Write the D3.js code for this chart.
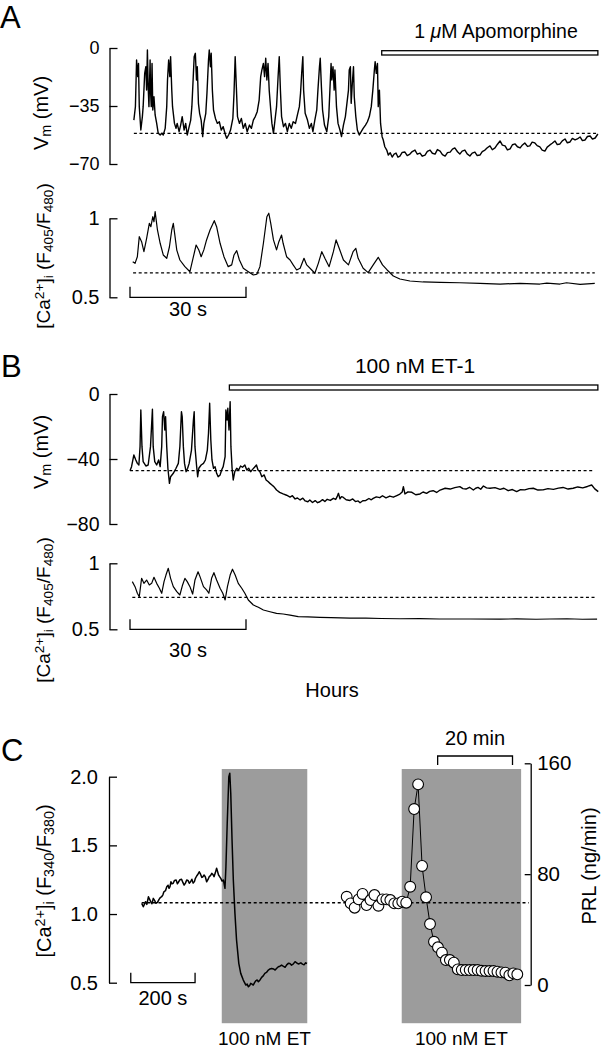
<!DOCTYPE html>
<html><head><meta charset="utf-8">
<script src="https://cdn.jsdelivr.net/npm/d3@7"></script>
<style>
body{margin:0;background:#fff}
svg text{font-family:"Liberation Sans",Arial,Helvetica,sans-serif;fill:#000}
</style></head><body>
<svg id="chart" width="601" height="1049" xmlns="http://www.w3.org/2000/svg"></svg>
<script>
// ---------------- DATA ----------------
// Panel A: membrane potential (time s, mV)
const vmA = [[1.0,-43.5],[1.4,-35.4],[1.7,-7.2],[2.0,-17.3],[2.2,-9.3],[2.4,-35.4],[2.8,-49.5],[3.2,-41.4],[3.4,-35.4],[3.8,-15.3],[4.1,-11.3],[4.3,-25.4],[4.5,-1.2],[4.7,-23.3],[4.9,-35.4],[5.2,-7.2],[5.3,-25.4],[5.5,-35.4],[5.7,-9.3],[5.9,-37.4],[6.2,-29.4],[6.5,-40.4],[6.9,-45.5],[7.3,-51.5],[7.8,-52.5],[8.2,-51.5],[8.6,-52.5],[9.1,-48.5],[9.5,-35.4],[9.7,-19.3],[10.0,-7.2],[10.3,-17.3],[10.5,-5.2],[10.8,-25.4],[11.0,-35.4],[11.5,-45.5],[11.9,-48.5],[12.2,-45.5],[12.7,-50.5],[13.1,-46.5],[13.5,-41.4],[14.0,-49.5],[14.4,-45.5],[14.8,-52.5],[15.3,-47.5],[15.7,-43.5],[16.0,-35.4],[16.4,-15.3],[16.6,-5.2],[16.9,-3.2],[17.2,-19.3],[17.4,-11.3],[17.7,-33.4],[18.0,-39.4],[18.4,-43.5],[18.8,-53.5],[19.1,-45.5],[19.6,-39.4],[19.9,-27.4],[20.3,-7.2],[20.5,-1.2],[20.8,-11.3],[21.0,-3.2],[21.3,-25.4],[21.6,-37.4],[22.1,-42.5],[22.6,-45.5],[23.1,-44.5],[23.6,-49.5],[24.1,-47.5],[24.7,-52.5],[25.0,-54.5],[25.5,-52.5],[26.0,-49.5],[26.6,-42.5],[26.9,-27.4],[27.2,-5.2],[27.5,-23.3],[27.8,-41.4],[28.3,-45.5],[28.8,-42.5],[29.3,-48.5],[29.8,-45.5],[30.3,-50.5],[30.9,-46.5],[31.4,-48.5],[31.9,-43.5],[32.4,-41.4],[32.9,-38.4],[33.4,-31.4],[33.8,-17.3],[34.1,-13.3],[34.5,-9.3],[34.8,-17.3],[35.1,-6.2],[35.4,-19.3],[35.7,-9.3],[36.0,-25.4],[36.4,-37.4],[36.7,-45.5],[37.1,-51.5],[37.5,-43.5],[37.9,-35.4],[38.3,-17.3],[38.6,-5.2],[38.9,-25.4],[39.2,-41.4],[39.7,-47.5],[40.2,-45.5],[40.7,-50.5],[41.2,-45.5],[41.7,-48.5],[42.2,-44.5],[42.8,-45.5],[43.3,-40.4],[43.8,-35.4],[44.1,-27.4],[44.4,-15.3],[44.7,-5.2],[44.9,-25.4],[45.3,-39.4],[45.9,-43.5],[46.4,-48.5],[46.9,-45.5],[47.3,-50.5],[47.8,-43.5],[48.3,-37.4],[48.6,-25.4],[49.0,-11.3],[49.2,-6.2],[49.5,-23.3],[49.8,-37.4],[50.3,-46.5],[50.9,-50.5],[51.4,-41.4],[51.7,-25.4],[52.0,-9.3],[52.2,-19.3],[52.5,-11.3],[52.8,-25.4],[53.0,-13.3],[53.4,-35.4],[53.8,-45.5],[54.3,-49.5],[54.7,-53.5],[55.2,-46.5],[55.7,-41.4],[56.1,-33.4],[56.5,-25.4],[56.7,-13.3],[57.0,-11.3],[57.2,-33.4],[57.5,-21.3],[57.8,-11.3],[58.0,-29.4],[58.4,-41.4],[58.8,-49.5],[59.3,-52.5],[59.8,-50.5],[60.3,-48.5],[60.9,-46.5],[61.4,-44.5],[61.9,-41.4],[62.4,-35.4],[62.8,-25.4],[63.2,-13.3],[63.4,-8.2],[63.7,-15.3],[64.0,-9.3],[64.2,-35.4],[64.5,-25.4],[64.8,-45.5],[65.2,-53.5],[65.5,-55.5],[65.9,-59.6],[66.4,-61.6],[66.8,-64.6],[67.3,-63.2],[67.8,-65.8],[68.3,-64.0],[68.8,-63.4],[69.3,-65.9],[69.8,-65.2],[70.4,-63.0],[71.1,-62.8],[71.7,-64.9],[72.4,-64.0],[73.0,-62.5],[73.7,-61.6],[74.3,-64.1],[75.0,-63.4],[75.6,-65.3],[76.3,-64.6],[76.9,-62.4],[77.6,-61.6],[78.2,-63.5],[78.9,-64.0],[79.5,-61.3],[80.2,-62.2],[80.8,-64.3],[81.5,-65.2],[82.1,-63.1],[82.8,-62.8],[83.4,-61.0],[84.0,-60.3],[84.7,-62.6],[85.3,-64.0],[85.9,-62.2],[86.6,-61.6],[87.2,-63.9],[87.9,-65.2],[88.5,-63.4],[89.2,-62.8],[89.8,-64.9],[90.5,-64.6],[91.1,-62.5],[91.8,-61.6],[92.4,-60.2],[93.1,-59.1],[93.7,-61.4],[94.4,-60.3],[95.0,-58.2],[95.7,-56.1],[96.3,-58.6],[97.0,-59.1],[97.6,-61.5],[98.3,-60.9],[98.9,-58.4],[99.6,-57.9],[100.2,-59.6],[100.9,-60.3],[101.5,-58.5],[102.1,-57.3],[102.8,-59.4],[103.4,-59.1],[104.0,-56.8],[104.7,-57.3],[105.3,-58.9],[106.0,-59.7],[106.6,-61.6],[107.3,-62.2],[107.9,-59.8],[108.6,-58.5],[109.2,-57.5],[109.9,-56.1],[110.5,-58.3],[111.2,-57.9],[111.8,-56.0],[112.5,-54.9],[113.1,-57.2],[113.8,-56.7],[114.4,-54.6],[115.1,-55.5],[115.7,-54.9],[116.4,-53.7],[117.0,-55.9],[117.7,-55.5],[118.3,-53.4],[119.0,-53.1],[119.6,-55.0],[120.3,-54.3],[121.0,-51.9]];
// Panel A: Ca ratio F405/F480 (time s, ratio)
const caA = [[0.7,0.725],[1.3,0.715],[1.9,0.757],[2.4,0.884],[3.0,0.852],[3.6,0.789],[4.3,0.873],[5.0,0.968],[5.4,0.947],[5.9,1.01],[6.2,0.978],[6.5,1.042],[7.1,0.926],[7.8,0.842],[8.6,0.768],[9.5,0.747],[10.2,0.82],[10.8,0.926],[11.2,0.968],[11.6,0.894],[12.1,0.799],[12.9,0.736],[14.2,0.694],[15.5,0.662],[16.4,0.757],[17.1,0.831],[17.8,0.799],[18.4,0.757],[19.1,0.8],[19.8,0.863],[20.7,0.926],[21.8,0.985],[22.4,0.947],[23.3,0.842],[24.3,0.757],[25.4,0.694],[26.3,0.705],[26.9,0.768],[27.6,0.795],[28.3,0.736],[29.3,0.684],[30.6,0.662],[31.9,0.641],[32.8,0.646],[33.6,0.694],[34.5,0.842],[35.4,1.01],[35.9,1.032],[36.4,0.968],[37.1,0.863],[37.9,0.8],[38.5,0.852],[39.2,0.894],[39.6,0.842],[40.5,0.757],[41.4,0.736],[42.2,0.705],[43.1,0.673],[44.0,0.684],[45.0,0.747],[45.7,0.705],[47.0,0.673],[47.8,0.652],[48.7,0.715],[49.6,0.789],[50.4,0.747],[51.5,0.694],[52.6,0.789],[53.3,0.863],[54.1,0.81],[55.2,0.736],[56.5,0.705],[57.7,0.789],[58.4,0.81],[59.0,0.747],[60.3,0.684],[61.6,0.656],[62.9,0.705],[64.2,0.753],[65.3,0.705],[66.5,0.673],[68.1,0.635],[69.8,0.616],[72.4,0.603],[75.8,0.597],[80.2,0.595],[85.3,0.592],[90.5,0.588],[95.7,0.584],[100.9,0.588],[106.0,0.584],[107.8,0.59],[111.2,0.584],[112.9,0.592],[116.4,0.582],[120.2,0.588]];
// Panel B: membrane potential (time s, mV)
const vmB = [[0,-47.2],[0.4,-44.7],[1.0,-37.5],[1.5,-40.6],[1.9,-42.7],[2.3,-43.7],[2.6,-32.4],[2.8,-9.8],[3.1,-32.4],[3.4,-41.6],[4.1,-44.3],[4.7,-43.7],[5.3,-32.4],[5.8,-9.4],[6.0,-32.4],[6.4,-41.6],[6.9,-43.7],[7.4,-40.6],[7.8,-44.7],[8.2,-32.4],[8.4,-13.9],[8.7,-10.9],[9.0,-22.2],[9.2,-13.9],[9.5,-32.4],[9.8,-45.7],[10.2,-55],[10.5,-50.9],[11.2,-48.8],[11.9,-45.7],[12.5,-42.7],[12.9,-32.4],[13.3,-10.9],[13.5,-13.9],[13.8,-32.4],[14.1,-42.7],[14.5,-47.8],[14.9,-45.7],[15.3,-42.7],[15.9,-34.5],[16.4,-16],[16.6,-10.9],[16.8,-32.4],[17.2,-43.7],[17.5,-50.9],[17.8,-45.7],[18.4,-43.7],[19.0,-42.7],[19.5,-40.6],[20.0,-34.5],[20.3,-24.2],[20.6,-5.7],[20.9,-28.3],[21.2,-40.6],[21.6,-45.7],[22.0,-44.7],[22.4,-48.8],[22.8,-50.9],[23.3,-49.8],[23.7,-46.8],[24.1,-44.7],[24.6,-38.6],[24.8,-9.8],[25.1,-16],[25.3,-8.8],[25.6,-22.2],[25.9,-4.7],[26.1,-32.4],[26.4,-45.7],[26.7,-52.9],[27.1,-47.8],[27.6,-45.7],[28.1,-46.8],[28.6,-44.3],[29.1,-45.1],[29.7,-43.7],[30.2,-46.8],[30.7,-45.7],[31.2,-47.8],[31.7,-46.4],[32.2,-45.1],[32.7,-43.7],[33.1,-46.8],[33.6,-47.8],[34.1,-50.9],[34.7,-49.8],[35.2,-52.9],[35.7,-53.9],[36.2,-55],[36.7,-56],[37.2,-57],[37.9,-59.1],[38.7,-60.5],[39.6,-61.5],[40.5,-62.3],[41.4,-63.4],[42.0,-62.6],[42.7,-64.6],[43.3,-64.0],[44.0,-65.2],[44.7,-64.1],[45.3,-65.8],[46.0,-66.3],[46.5,-65.2],[47.2,-66.8],[47.9,-65.6],[48.5,-66.9],[49.1,-66.3],[49.8,-65.0],[50.4,-66.2],[51.0,-64.8],[51.8,-65.5],[52.6,-64.2],[53.2,-64.9],[53.6,-63.0],[53.9,-61.1],[54.3,-64.5],[54.7,-63.2],[55.1,-63.5],[55.9,-65.1],[56.9,-65.5],[57.6,-64.6],[58.3,-66.2],[59.0,-65.8],[59.5,-66.9],[60.2,-65.7],[61.0,-65.5],[61.8,-64.3],[62.4,-65.1],[62.9,-64.2],[63.7,-63.3],[64.6,-63.8],[65.3,-62.6],[66.2,-63.9],[67.2,-62.8],[68.1,-63.5],[69.0,-62.5],[69.8,-61.6],[70.4,-60.3],[70.7,-57.0],[71.1,-61.5],[71.9,-60.2],[72.9,-60.5],[73.9,-62.0],[75.0,-61.5],[75.8,-60.3],[76.7,-61.1],[77.5,-59.9],[78.4,-59.5],[79.3,-60.6],[80.2,-59.1],[81.5,-58.0],[82.8,-58.5],[84.0,-57.6],[85.3,-57.0],[86.1,-58.2],[86.9,-58.5],[87.8,-57.4],[88.8,-59.1],[89.4,-58.0],[90.0,-57.5],[90.7,-58.6],[91.4,-56.6],[92.2,-57.8],[93.1,-58.0],[94.4,-57.6],[95.7,-58.7],[96.7,-58.0],[97.8,-59.5],[98.9,-58.8],[100.0,-60.1],[101.0,-58.9],[102.1,-59.0],[103.2,-58.2],[104.3,-58.0],[105.5,-59.1],[106.8,-59.0],[108.1,-58.2],[109.5,-58.7],[110.8,-57.9],[112.0,-57.5],[113.3,-58.5],[114.6,-58.0],[115.8,-57.2],[117.1,-57.8],[118.3,-56.9],[119.4,-56.0],[120.2,-58.4],[121.1,-60.1]];
// Panel B: Ca ratio F405/F480 (time s, ratio)
const caB = [[0.6,0.861],[1.3,0.823],[1.9,0.773],[2.4,0.747],[3.0,0.886],[3.6,0.848],[4.3,0.873],[5.0,0.836],[5.6,0.848],[6.2,0.894],[6.9,0.848],[7.6,0.811],[8.2,0.773],[8.8,0.861],[9.3,0.911],[9.9,0.962],[10.5,0.886],[11.2,0.823],[12.1,0.785],[12.9,0.76],[13.6,0.836],[14.2,0.886],[14.8,0.861],[15.5,0.823],[16.2,0.767],[16.8,0.873],[17.6,0.936],[18.1,0.899],[19.0,0.823],[19.8,0.798],[20.4,0.773],[21.1,0.886],[21.7,0.929],[22.4,0.873],[23.3,0.811],[24.0,0.773],[24.6,0.722],[25.2,0.823],[25.9,0.911],[26.5,0.955],[27.2,0.911],[28.0,0.848],[28.9,0.811],[29.7,0.773],[30.6,0.722],[31.9,0.684],[33.2,0.667],[34.5,0.646],[36.2,0.633],[37.9,0.621],[39.6,0.616],[41.4,0.608],[43.5,0.596],[46,0.594],[49.1,0.59],[52,0.588],[56.9,0.585],[61,0.585],[65,0.582],[69.8,0.58],[75,0.581],[80,0.578],[82.8,0.578],[88,0.578],[95.7,0.577],[100,0.579],[105,0.576],[108.6,0.578],[113,0.58],[117,0.576],[120.8,0.577]];
// Panel C: Ca ratio F340/F380 (time s, ratio)
const caC = [[0,1.078],[5,1.053],[12,1.09],[16,1.07],[21,1.126],[24,1.11],[28,1.09],[32,1.075],[36,1.114],[40,1.1],[44,1.078],[49,1.085],[54,1.107],[58,1.12],[62,1.126],[66,1.14],[69,1.162],[74,1.17],[78,1.199],[82,1.21],[85,1.187],[88,1.2],[91,1.235],[94,1.22],[98,1.224],[102,1.245],[107,1.248],[111,1.22],[115,1.235],[119,1.25],[124,1.253],[128,1.23],[132,1.211],[136,1.225],[140,1.248],[144,1.245],[148,1.224],[152,1.235],[156,1.253],[160,1.225],[164,1.236],[167,1.26],[171,1.277],[175,1.29],[179,1.308],[183,1.29],[187,1.267],[190,1.27],[194,1.284],[198,1.27],[202,1.235],[206,1.25],[210,1.272],[214,1.28],[218,1.296],[221,1.29],[225,1.272],[229,1.3],[233,1.333],[236,1.31],[239,1.284],[243,1.27],[246,1.26],[250,1.24],[254,1.248],[259,1.187],[262,1.345],[266,1.66],[271,2.0],[274,2.025],[277,1.879],[281,1.539],[285,1.248],[290,1.005],[295,0.811],[302,0.641],[308,0.568],[316,0.519],[324,0.483],[328,0.49],[332,0.47],[336,0.48],[339,0.495],[343,0.49],[347,0.483],[351,0.5],[355,0.514],[359,0.52],[363,0.507],[368,0.52],[373,0.539],[378,0.55],[383,0.568],[388,0.575],[394,0.592],[399,0.6],[404,0.604],[410,0.6],[415,0.592],[420,0.605],[425,0.616],[430,0.62],[435,0.628],[440,0.62],[446,0.612],[451,0.63],[456,0.641],[461,0.64],[466,0.628],[471,0.635],[477,0.653],[482,0.645],[487,0.636],[491,0.64],[495,0.645],[500,0.635],[505,0.63],[510,0.645],[514,0.64]];
// Panel C: PRL secretion (ng/min), one fraction per sample
const prlValues = [63.7,58.9,55.8,61.8,65.7,57.7,61.3,64.9,57.2,61.8,61.8,61.3,58.9,58.9,60.1,59.4,70.9,127,144.8,85.9,63.3,44,31.2,27.2,23.3,18,18,16.1,11.3,10.8,10.8,10.8,10.8,10.8,10.3,10.1,10.1,10.1,9.6,9.1,8.9,7,8.4,7.7];
const prlSampleMin = 1.06;

// baselines (dashed reference levels)
const restVmA = -51.5, restCaA = 0.655, restVmB = -47.2, restCaB = 0.742, restCaC = 1.082;
// drug applications
const apoA = [65.1, 121.0];     // s
const et1B = [25.7, 121.0];     // s
const etCaC = [249, 515];       // s
const etPrl = [14.7, 46.6];     // min
// ticks
const ticksVmA = [-70,-35,0], ticksCaA = [0.5,1], ticksVmB = [-80,-40,0], ticksCaB = [0.5,1];
const ticksCaC = [0.5,1.0,1.5,2.0], ticksPrl = [0,80,160];

// ---------------- DRAW ----------------
const FONT = '"Liberation Sans", Arial, Helvetica, sans-serif';
const svg = d3.select("#chart");

const xA = d3.scaleLinear().domain([0,120]).range([130,594]);
const yVmA = d3.scaleLinear().domain([-70,0]).range([164,48]);
const yCaA = d3.scaleLinear().domain([0.5,1]).range([297.3,218.3]);
const yVmB = d3.scaleLinear().domain([-80,0]).range([524,394]);
const yCaB = d3.scaleLinear().domain([0.5,1]).range([629.3,563.3]);
const xCaC = d3.scaleLinear().domain([0,200]).range([141.7,206.0]);
const yCaC = d3.scaleLinear().domain([0.5,2.0]).range([982.7,776.7]);
const xPrl = d3.scaleLinear().domain([0,43*prlSampleMin]).range([346.7,517.3]);
const yPrl = d3.scaleLinear().domain([0,160]).range([985,763.3]);

function leftAxis(scale, ticks, fmt, x, fs, pad) {
  const g = svg.append("g").attr("transform", `translate(${x},0)`)
    .call(d3.axisLeft(scale).tickValues(ticks).tickFormat(fmt).tickSizeInner(-8).tickSizeOuter(0).tickPadding(pad));
  g.select(".domain").attr("stroke","#000").attr("stroke-width",1.3);
  g.selectAll(".tick line").attr("stroke","#000").attr("stroke-width",1.3);
  g.selectAll(".tick text").attr("font-size",fs).attr("font-family",FONT).attr("fill","#000");
  return g;
}
function dashed(x1, x2, y) {
  svg.append("line").attr("x1",x1).attr("x2",x2).attr("y1",y).attr("y2",y)
    .attr("stroke","#000").attr("stroke-width",1.3).attr("stroke-dasharray","3,2.6");
}
function trace(data, xs, ys, w) {
  svg.append("path").datum(data)
    .attr("d", d3.line().x(d=>xs(d[0])).y(d=>ys(d[1])))
    .attr("fill","none").attr("stroke","#000").attr("stroke-width",w||1.1).attr("stroke-linejoin","round");
}
function scaleBar(x1, x2, y, h, label, ty, fs) {
  svg.append("path").attr("d", `M${x1},${y-h}V${y}H${x2}V${y-h}`)
    .attr("fill","none").attr("stroke","#000").attr("stroke-width",1.3);
  svg.append("text").attr("x",(x1+x2)/2).attr("y",ty).attr("text-anchor","middle").attr("font-size",fs).text(label);
}
function rotLabel(x, y, fs, parts) {
  const t = svg.append("text").attr("transform",`translate(${x},${y}) rotate(-90)`)
    .attr("text-anchor","middle").attr("font-size",fs);
  parts.forEach(p => {
    const s = t.append("tspan").text(p[0]);
    if (p[1]==="sub") s.attr("baseline-shift","-22%").attr("font-size",fs*0.72);
    if (p[1]==="sup") s.attr("baseline-shift","42%").attr("font-size",fs*0.72);
  });
}
function letter(s, x, y) {
  svg.append("text").attr("x",x).attr("y",y).attr("font-size",31).text(s);
}
const f1 = d3.format("~g"), f2 = d3.format(".1f");

// ---------- Panel A ----------
letter("A", 0, 28);
svg.append("text").attr("x",496).attr("y",38).attr("text-anchor","middle").attr("font-size",19.5)
  .call(t=>{t.append("tspan").text("1 "); t.append("tspan").attr("font-style","italic").text("μ"); t.append("tspan").text("M Apomorphine");});
svg.append("rect").attr("x",xA(apoA[0])).attr("y",yVmA(0)+2.7).attr("width",xA(apoA[1])-xA(apoA[0])).attr("height",4.3)
  .attr("fill","#fff").attr("stroke","#000").attr("stroke-width",1.3);
leftAxis(yVmA, ticksVmA, f1, 109.5, 18, 10);
rotLabel(48, 113, 20, [["V"],["m","sub"],[" (mV)"]]);
dashed(xA(1.0), xA(121), yVmA(restVmA));
trace(vmA, xA, yVmA, 1.4);

leftAxis(yCaA, ticksCaA, f1, 109.5, 20, 10);
rotLabel(50, 256, 19, [["[Ca"],["2+","sup"],["]"],["i","sub"],[" (F"],["405","sub"],["/F"],["480","sub"],[")"]]);
dashed(xA(0.8), xA(120.2), yCaA(restCaA));
trace(caA, xA, yCaA, 1.2);
scaleBar(xA(0), xA(30), yCaA(0.5), 10.6, "30 s", 316, 20);

// ---------- Panel B ----------
letter("B", 1, 377);
svg.append("text").attr("x",415).attr("y",373).attr("text-anchor","middle").attr("font-size",21).text("100 nM ET-1");
svg.append("rect").attr("x",xA(et1B[0])).attr("y",yVmB(0)-9).attr("width",xA(et1B[1])-xA(et1B[0])).attr("height",5)
  .attr("fill","#fff").attr("stroke","#000").attr("stroke-width",1.3);
leftAxis(yVmB, ticksVmB, f1, 109.5, 19.5, 10);
rotLabel(48, 452, 20, [["V"],["m","sub"],[" (mV)"]]);
dashed(xA(0), xA(120.2), yVmB(restVmB));
trace(vmB, xA, yVmB, 1.4);

leftAxis(yCaB, ticksCaB, f1, 109.5, 20, 10);
rotLabel(50, 610, 19, [["[Ca"],["2+","sup"],["]"],["i","sub"],[" (F"],["405","sub"],["/F"],["480","sub"],[")"]]);
dashed(xA(0.6), xA(120.8), yCaB(restCaB));
trace(caB, xA, yCaB, 1.2);
scaleBar(xA(0), xA(30), yCaB(0.5), 10, "30 s", 657, 20);

svg.append("text").attr("x",332).attr("y",697).attr("text-anchor","middle").attr("font-size",20).text("Hours");

// ---------- Panel C ----------
letter("C", 1, 761);
const boxTop = yCaC(2.056), boxBot = yCaC(0.205);
svg.append("rect").attr("x",xCaC(etCaC[0])).attr("y",boxTop).attr("width",xCaC(etCaC[1])-xCaC(etCaC[0])).attr("height",boxBot-boxTop).attr("fill","#9c9c9c");
svg.append("rect").attr("x",xPrl(etPrl[0])).attr("y",boxTop).attr("width",xPrl(etPrl[1])-xPrl(etPrl[0])).attr("height",boxBot-boxTop).attr("fill","#9c9c9c");

leftAxis(yCaC, ticksCaC, f2, 109, 20, 11);
rotLabel(51, 881, 20, [["[Ca"],["2+","sup"],["]"],["i","sub"],[" (F"],["340","sub"],["/F"],["380","sub"],[")"]]);
const prlAxisX = 530.7;
dashed(xCaC(0), prlAxisX - 2, yCaC(restCaC));
trace(caC, xCaC, yCaC, 1.5);
scaleBar(xCaC(-34), xCaC(166), yCaC(0.5), 10, "200 s", 1005, 20);

// PRL axis (right)
const gP = svg.append("g").attr("transform",`translate(${prlAxisX},0)`)
  .call(d3.axisRight(yPrl).tickValues(ticksPrl).tickFormat(d3.format("d")).tickSizeInner(-6).tickSizeOuter(0).tickPadding(6.5));
gP.select(".domain").attr("stroke","#000").attr("stroke-width",1.3);
gP.selectAll(".tick line").attr("stroke","#000").attr("stroke-width",1.3);
gP.selectAll(".tick text").attr("font-size",20.5).attr("font-family",FONT).attr("fill","#000");
rotLabel(596, 866, 20, [["PRL (ng/min)"]]);

const prlData = prlValues.map((v,i)=>[i*prlSampleMin, v]);
svg.append("path").datum(prlData).attr("d", d3.line().x(d=>xPrl(d[0])).y(d=>yPrl(d[1])))
  .attr("fill","none").attr("stroke","#000").attr("stroke-width",1);
svg.append("g").selectAll("circle").data(prlData).join("circle")
  .attr("cx",d=>xPrl(d[0])).attr("cy",d=>yPrl(d[1])).attr("r",5.4)
  .attr("fill","#fff").attr("stroke","#000").attr("stroke-width",1.1);

// 20 min scale bar (ticks pointing down)
const sb1 = xPrl(24.3), sb2 = xPrl(44.3);
svg.append("path").attr("d",`M${sb1},765V756H${sb2}V765`).attr("fill","none").attr("stroke","#000").attr("stroke-width",1.3);
svg.append("text").attr("x",(sb1+sb2)/2).attr("y",745).attr("text-anchor","middle").attr("font-size",20).text("20 min");

svg.append("text").attr("x",(xCaC(etCaC[0])+xCaC(etCaC[1]))/2).attr("y",1045).attr("text-anchor","middle").attr("font-size",19).text("100 nM ET");
svg.append("text").attr("x",(xPrl(etPrl[0])+xPrl(etPrl[1]))/2).attr("y",1045).attr("text-anchor","middle").attr("font-size",19).text("100 nM ET");
</script>
</body></html>
